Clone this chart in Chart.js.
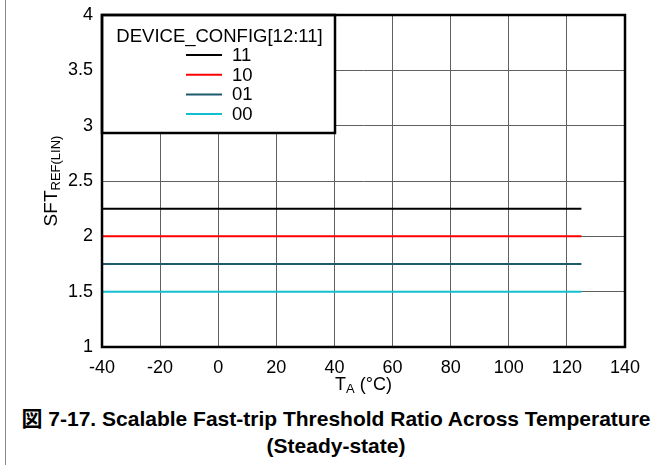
<!DOCTYPE html>
<html>
<head>
<meta charset="utf-8">
<script src="https://cdn.jsdelivr.net/npm/chart.js@4"></script>
<style>
    body { margin: 0; background: #fff; }
    #wrap { position: relative; width: 663px; height: 465px; overflow: hidden; }
    #edge { position: absolute; left: 5px; top: 0; width: 0; height: 465px; border-left: 1px solid #8c8c8c; }
    #chart-box { position: absolute; left: 0; top: 0; width: 663px; height: 400px; }
    #caption {
        position: absolute; left: 0; top: 405px; width: 672px; text-align: center;
        font-family: "Liberation Sans", "Noto Sans CJK JP", sans-serif;
        font-weight: bold; font-size: 21px; line-height: 27px; color: #000;
    }
</style>
</head>
<body>
<div id="wrap">
    <div id="edge"></div>
    <div id="chart-box"><canvas id="tempChart" width="663" height="400"></canvas></div>
    <div id="caption">図 7-17. Scalable Fast-trip Threshold Ratio Across Temperature<br>(Steady-state)</div>
</div>
<script>
// temperature (°C) end points of each curve
let temps = [-40, 125];
let codes = ['11', '10', '01', '00'];
let ratio11 = [2.25, 2.25];
let ratio10 = [2.0, 2.0];
let ratio01 = [1.75, 1.75];
let ratio00 = [1.5, 1.5];
let colors = ['#000000', '#ff0000', '#1d5a6c', '#12bfd0'];
let legendTitle = 'DEVICE_CONFIG[12:11]';

const FONT = '"Liberation Sans", Arial, sans-serif';

let series = [ratio11, ratio10, ratio01, ratio00];

let datasets = series.map((vals, i) => ({
    label: codes[i],
    data: temps.map((t, j) => ({ x: t, y: vals[j] })),
    borderColor: colors[i],
    borderWidth: 2,
    pointRadius: 0,
    fill: false,
    tension: 0
}));

// border, legend box and axis titles with subscripts
const extras = {
    id: 'extras',
    afterDatasetsDraw(chart) {
        const c = chart.ctx;
        const a = chart.chartArea;
        c.save();

        // legend box in upper left corner
        let lx = a.left, ly = a.top, lw = 233, lh = 118;
        c.fillStyle = '#fff';
        c.fillRect(lx, ly, lw, lh);
        c.strokeStyle = '#000';
        c.lineWidth = 2.5;
        c.strokeRect(lx, ly, lw, lh);

        c.fillStyle = '#000';
        c.font = '18.5px ' + FONT;
        c.textBaseline = 'middle';
        c.textAlign = 'center';
        c.fillText(legendTitle, lx + lw / 2 + 1, ly + 22);
        c.textAlign = 'left';
        chart.data.datasets.forEach((ds, i) => {
            let y = ly + 40 + i * 19.7;
            c.strokeStyle = ds.borderColor;
            c.lineWidth = 2;
            c.beginPath();
            c.moveTo(lx + 84, y);
            c.lineTo(lx + 120, y);
            c.stroke();
            c.fillText(ds.label, lx + 130, y + 1);
        });

        // plot frame
        c.strokeStyle = '#000';
        c.lineWidth = 2.5;
        c.strokeRect(a.left, a.top, a.right - a.left, a.bottom - a.top);

        // x title: T_A (°C)
        let big = '18px ' + FONT, small = '13px ' + FONT;
        c.font = big;
        let w1 = c.measureText('T').width;
        let w3 = c.measureText(' (°C)').width;
        c.font = small;
        let w2 = c.measureText('A').width;
        let x0 = (a.left + a.right) / 2 - (w1 + w2 + w3) / 2;
        c.textBaseline = 'alphabetic';
        c.font = big;
        c.fillText('T', x0, 390);
        c.font = small;
        c.fillText('A', x0 + w1, 393);
        c.font = big;
        c.fillText(' (°C)', x0 + w1 + w2, 390);

        // y title: SFT_REF(LIN)
        c.translate(57, (a.top + a.bottom) / 2);
        c.rotate(-Math.PI / 2);
        c.font = '19px ' + FONT;
        let s1 = c.measureText('SFT').width;
        c.font = small;
        let s2 = c.measureText('REF(LIN)').width;
        let y0 = -(s1 + s2) / 2;
        c.font = '19px ' + FONT;
        c.fillText('SFT', y0, 0);
        c.font = small;
        c.fillText('REF(LIN)', y0 + s1, 3);
        c.restore();
    }
};

const ctx = document.getElementById('tempChart').getContext('2d');
const tempChart = new Chart(ctx, {
    type: 'line',
    data: { datasets: datasets },
    options: {
        responsive: false,
        animation: false,
        layout: { padding: { left: 0, right: 38, top: 15, bottom: 0 } },
        plugins: { legend: { display: false }, tooltip: { enabled: false } },
        scales: {
            x: {
                type: 'linear',
                min: -40,
                max: 140,
                ticks: { stepSize: 20, color: '#000', font: { family: FONT, size: 18 }, padding: 10, maxRotation: 0 },
                grid: { color: '#606060', lineWidth: 1, drawTicks: false },
                border: { display: false },
                afterFit: s => { s.height = 53; s.paddingLeft = 0; s.paddingRight = 0; }
            },
            y: {
                min: 1,
                max: 4,
                ticks: {
                    stepSize: 0.5, color: '#000', font: { family: FONT, size: 18 }, padding: 9,
                    callback: v => String(v)
                },
                grid: { color: '#606060', lineWidth: 1, drawTicks: false },
                border: { display: false },
                afterFit: s => { s.width = 102; s.paddingTop = 0; s.paddingBottom = 0; }
            }
        }
    },
    plugins: [extras]
});
</script>
</body>
</html>
